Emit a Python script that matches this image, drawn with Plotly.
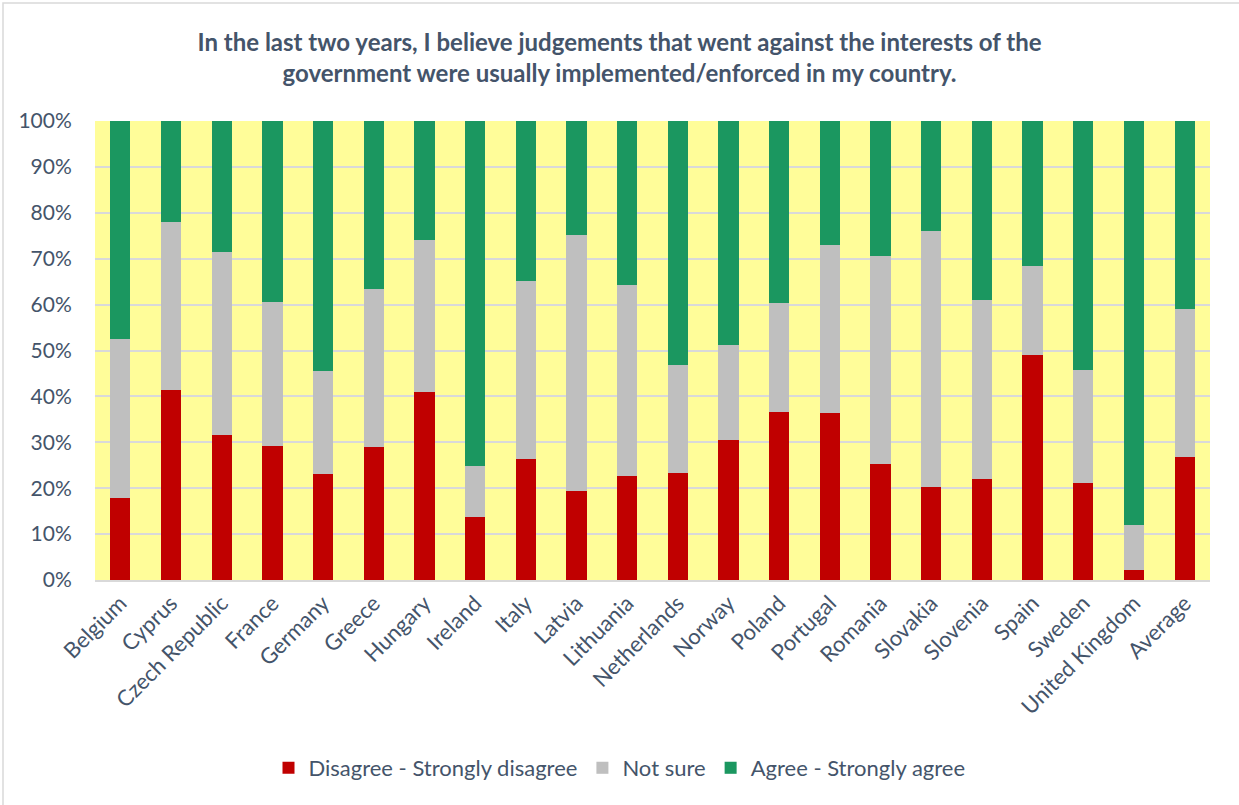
import plotly.graph_objects as go

countries = ["Belgium", "Cyprus", "Czech Republic", "France", "Germany", "Greece",
             "Hungary", "Ireland", "Italy", "Latvia", "Lithuania", "Netherlands",
             "Norway", "Poland", "Portugal", "Romania", "Slovakia", "Slovenia",
             "Spain", "Sweden", "United Kingdom", "Average"]

disagree = [17.8, 41.4, 31.6, 29.3, 23.2, 29.0, 40.9, 13.8, 26.4, 19.4, 22.7,
            23.3, 30.5, 36.6, 36.4, 25.3, 20.3, 21.9, 49.1, 21.1, 2.2, 26.7]
not_sure = [34.8, 36.7, 39.9, 31.3, 22.4, 34.3, 33.2, 11.0, 38.7, 55.7, 41.6,
            23.6, 20.6, 23.7, 36.6, 45.2, 55.7, 39.0, 19.3, 24.7, 9.8, 32.3]
agree = [47.4, 21.9, 28.5, 39.4, 54.4, 36.7, 25.9, 75.2, 34.9, 24.9, 35.7,
         53.1, 48.9, 39.7, 27.0, 29.5, 24.0, 39.1, 31.6, 54.2, 88.0, 41.0]

series_names = ["Disagree - Strongly disagree", "Not sure", "Agree - Strongly agree"]
series_colors = ["#C00000", "#BFBFBF", "#1B9760"]

W, H = 1239, 805
ML, MR, MT, MB = 95, 29, 121, 225
text_color = "#44546A"
font_family = "Lato, 'Open Sans', sans-serif"

fig = go.Figure()
for name, vals, color in zip(series_names, [disagree, not_sure, agree], series_colors):
    fig.add_trace(go.Bar(
        x=countries, y=[v / 100 for v in vals], name=name,
        marker=dict(color=color, line=dict(width=0)),
    ))

# light frame around the whole chart area
pw, ph = W - ML - MR, H - MT - MB
def px_x(p):
    return (p - ML) / pw
def px_y(p):
    return (H - MB - p) / ph

fig.add_shape(type="rect", xref="paper", yref="paper",
              x0=px_x(3), x1=px_x(W + 5), y0=px_y(H + 5), y1=px_y(3),
              line=dict(color="#D9D9D9", width=1.5), fillcolor="rgba(0,0,0,0)",
              layer="below")

fig.update_layout(
    width=W, height=H,
    margin=dict(l=ML, r=MR, t=MT, b=MB),
    barmode="stack", bargap=0.6,
    paper_bgcolor="white", plot_bgcolor="#FFFD99",
    font=dict(family=font_family, color=text_color),
    title=dict(
        text="In the last two years, I believe judgements that went against the interests of the<br>"
             "government were usually implemented/enforced in my country.",
        x=0.5, xref="container", xanchor="center",
        y=1 - 51 / H, yref="container", yanchor="middle",
        font=dict(family=font_family, size=24, color=text_color, weight="bold"),
    ),
    legend=dict(
        orientation="h", x=0.5, xref="container", xanchor="center",
        y=1 - 768 / H, yref="container", yanchor="middle",
        font=dict(size=22, color=text_color), traceorder="normal",
    ),
    xaxis=dict(
        tickangle=-45, tickfont=dict(size=22, color=text_color),
        showgrid=False, showline=True, linecolor="#D9D9D9", linewidth=1.5,
        ticks="", fixedrange=True,
    ),
    yaxis=dict(
        range=[0, 1], tickvals=[i / 10 for i in range(11)], tickformat=".0%",
        tickfont=dict(size=21, color=text_color),
        showgrid=True, gridcolor="#D9D9D9", gridwidth=1.5,
        zeroline=False, ticks="outside", ticklen=18, tickcolor="rgba(0,0,0,0)",
        fixedrange=True,
    ),
    showlegend=True,
)

fig.write_html("out.html")
